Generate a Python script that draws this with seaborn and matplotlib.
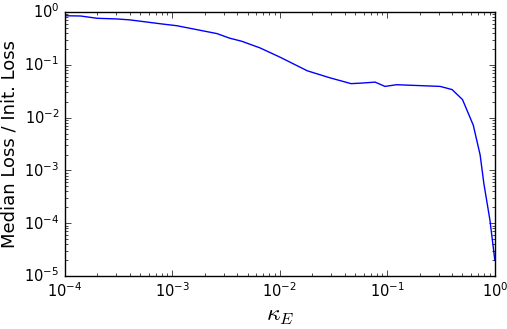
import pandas as pd
import matplotlib
matplotlib.use('Agg')
import matplotlib.pyplot as plt
import seaborn as sns

# values (kappa_E vs median loss ratio)
kappa = [1.0e-4, 1.4e-4, 2.0e-4, 3.0e-4, 4.0e-4, 8.2e-4, 1.1e-3, 2.6e-3, 3.4e-3, 4.4e-3,
         6.5e-3, 1.0e-2, 1.8e-2, 2.9e-2, 4.6e-2, 5.7e-2, 7.7e-2, 9.5e-2,
         0.122, 0.31, 0.40, 0.50, 0.63, 0.73, 0.79, 0.90, 1.0]
loss_ratio = [0.85, 0.84, 0.76, 0.74, 0.71, 0.59, 0.55, 0.39, 0.32, 0.28,
              0.21, 0.14, 0.077, 0.057, 0.044, 0.045, 0.047, 0.039,
              0.042, 0.039, 0.034, 0.022, 7.2e-3, 1.96e-3, 5.7e-4, 1.15e-4, 2.0e-5]

df = pd.DataFrame({'kappa': kappa, 'loss': loss_ratio})

plt.style.use('classic')
fig = plt.figure(figsize=(5.07, 3.29), dpi=100, facecolor='white')
ax = fig.add_axes([0.128, 0.161, 0.848, 0.8025])

sns.lineplot(data=df, x='kappa', y='loss', color='blue', linewidth=1.0, ax=ax)
ax.set_xscale('log')
ax.set_yscale('log')
ax.set_xlim(1e-4, 1)
ax.set_ylim(1e-5, 1)

ax.set_xlabel(r'$\kappa_E$', fontsize=17, labelpad=2)
ax.set_ylabel('Median Loss / Init. Loss', fontsize=13, labelpad=4)
ax.tick_params(labelsize=10.5)

fig.savefig('out.png', dpi=100)
